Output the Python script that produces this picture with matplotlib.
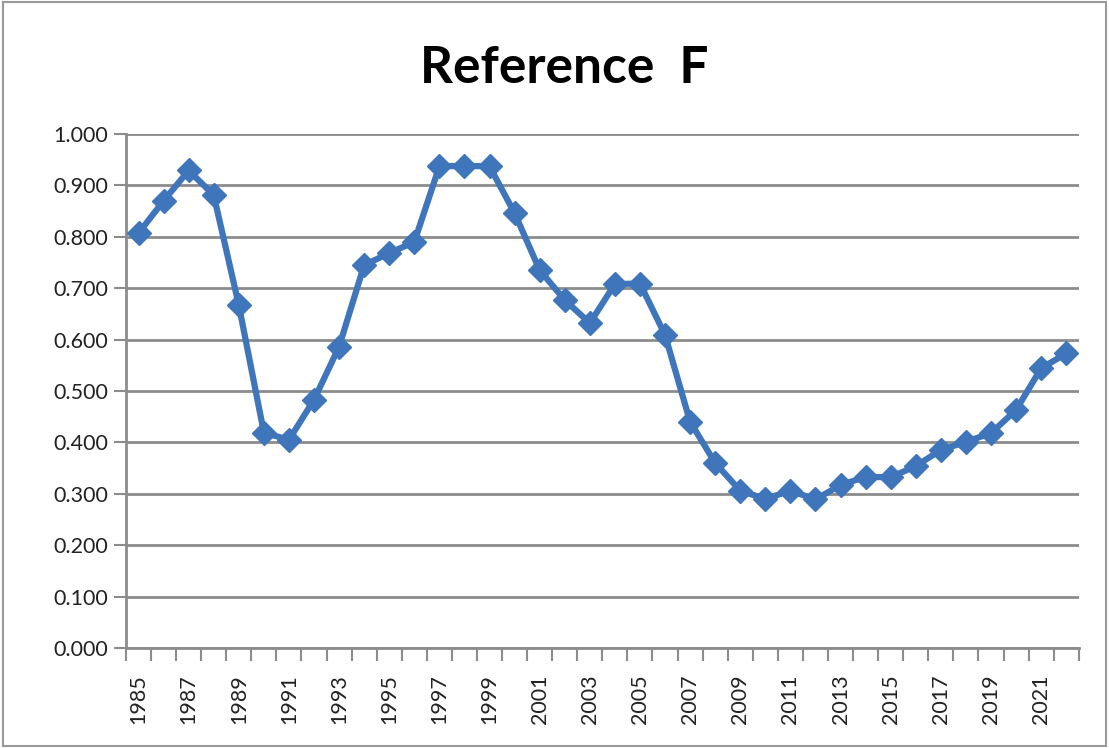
import matplotlib
matplotlib.use("Agg")
import matplotlib.pyplot as plt
from matplotlib.ticker import FixedLocator, FuncFormatter

years = list(range(1985, 2023))
values = [
    0.807, 0.870, 0.929, 0.881, 0.667, 0.419, 0.405, 0.483, 0.586, 0.745,
    0.768, 0.790, 0.937, 0.938, 0.937, 0.846, 0.735, 0.677, 0.632, 0.708,
    0.709, 0.609, 0.440, 0.360, 0.306, 0.290, 0.306, 0.289, 0.317, 0.333,
    0.332, 0.354, 0.385, 0.401, 0.418, 0.463, 0.544, 0.573,
]
title = "Reference  F"
y_ticks = [0.0, 0.1, 0.2, 0.3, 0.4, 0.5, 0.6, 0.7, 0.8, 0.9, 1.0]

line_color = "#3f76bb"
grid_color = "#8c8c8c"
font = ["Lato", "DejaVu Sans"]

fig = plt.figure(figsize=(11.09, 7.48), dpi=100)
ax = fig.add_axes([0.1136, 0.1337, 0.8591, 0.6872])

x = list(range(len(years)))
ax.plot(x, values, color=line_color, linewidth=4.5, marker="D",
        markersize=12, markerfacecolor=line_color, markeredgecolor=line_color,
        zorder=3)

ax.set_xlim(-0.5, len(years) - 0.5)
ax.set_ylim(0, 1.0)

# y axis
ax.set_yticks(y_ticks)
ax.yaxis.set_major_formatter(FuncFormatter(lambda v, p: f"{v:.3f}"))
ax.grid(axis="y", color=grid_color, linewidth=2, zorder=1)
ax.tick_params(axis="y", length=9, width=1.5, color=grid_color,
               labelsize=15.5, pad=4, labelcolor="#222222")

# x axis: ticks between categories, labels every other year
ax.xaxis.set_major_locator(FixedLocator(x[::2]))
ax.set_xticklabels([str(y) for y in years[::2]], rotation=90)
ax.xaxis.set_minor_locator(FixedLocator([i - 0.5 for i in range(len(years) + 1)]))
ax.tick_params(axis="x", which="major", length=0, labelsize=15.5, pad=19,
               labelcolor="#222222")
ax.tick_params(axis="x", which="minor", length=9, width=1.5, color=grid_color)

for lbl in ax.get_xticklabels() + ax.get_yticklabels():
    lbl.set_family(font)

for side in ["top", "right"]:
    ax.spines[side].set_visible(False)
for side in ["left", "bottom"]:
    ax.spines[side].set_color(grid_color)
    ax.spines[side].set_linewidth(2)

fig.text(0.509, 0.908, title, ha="center", va="center", fontsize=37,
         fontweight="bold", family=font)

# outer chart border
fig.patches.append(plt.Rectangle((0.003, 0.003), 0.994, 0.994,
                                 transform=fig.transFigure, fill=False,
                                 edgecolor="#9a9a9a", linewidth=1.5))

fig.savefig("out.png", dpi=100)
